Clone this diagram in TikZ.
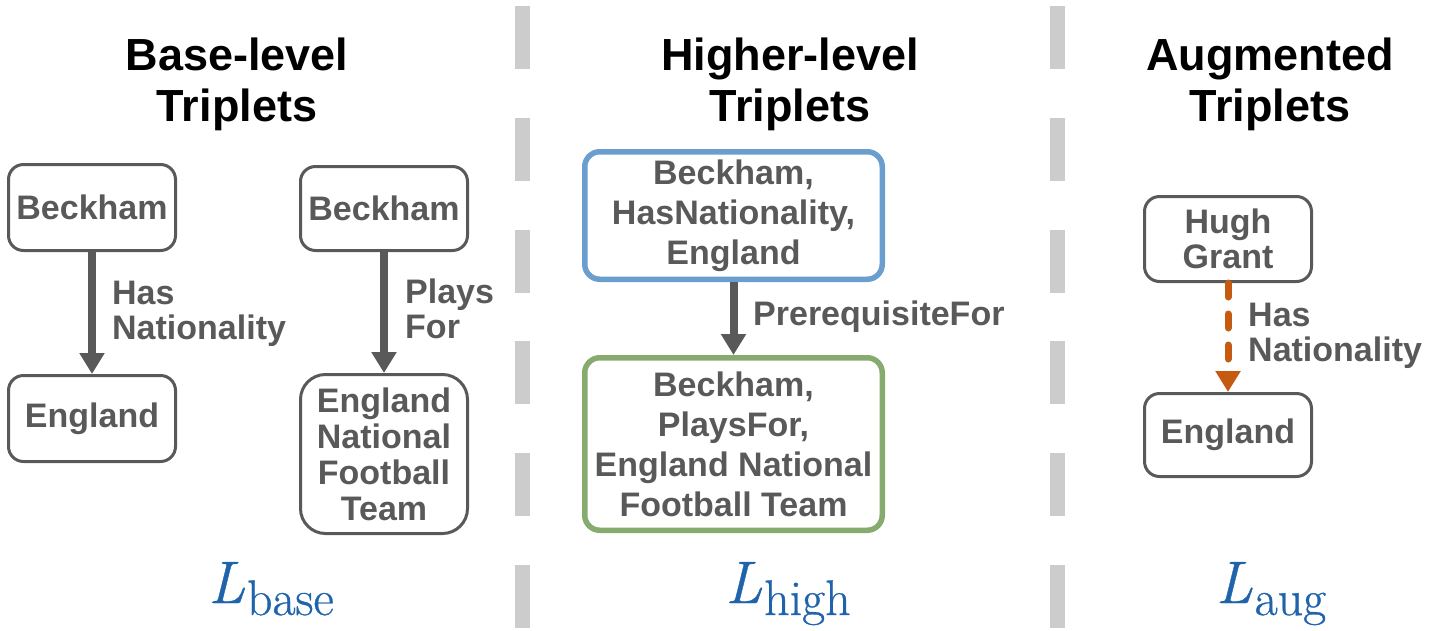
\documentclass[tikz,border=0pt]{standalone}
\usepackage{fontspec}
\setmainfont{Liberation Sans}
\newfontfamily\lmfont{Latin Modern Roman}[FakeBold=0.6]
\usetikzlibrary{arrows.meta}
\definecolor{txtgray}{HTML}{595959}
\definecolor{hblue}{HTML}{6A9ECF}
\definecolor{hgreen}{HTML}{87AA6E}
\definecolor{aorange}{HTML}{C55A11}
\definecolor{sepgray}{HTML}{CCCCCC}
\definecolor{lblue}{HTML}{1F63AB}
\newcommand\Lsub[1]{{\lmfont\fontsize{60}{62}\selectfont\itshape L\kern2pt}\raisebox{-12pt}{\lmfont\fontsize{50}{52}\selectfont #1}}
\begin{document}
\begin{tikzpicture}[x=1pt,y=-1pt,
  box/.style={draw=txtgray, line width=3pt, rounded corners=15pt, text=txtgray,
    font={\fontsize{34}{36}\selectfont\bfseries}, align=center, inner sep=0pt,
    minimum width=167pt},
  hbox/.style={draw=#1, line width=5.5pt, rounded corners=15pt, text=txtgray,
    font={\fontsize{34}{40}\selectfont\bfseries}, align=center, inner sep=0pt,
    minimum width=297.5pt},
  lbl/.style={text=txtgray, font={\fontsize{34}{35}\selectfont\bfseries}, align=left, inner sep=0pt},
  ttl/.style={text=black, font={\fontsize{45}{51}\selectfont\bfseries}, align=center, inner sep=0pt, anchor=north},
  lossl/.style={text=lblue, inner sep=0pt, anchor=base},
  rel/.style={draw=txtgray, line width=8pt, -{Triangle[width=24pt,length=21pt]}},
  augrel/.style={draw=aorange, line width=7pt, line cap=round, dash pattern=on 14pt off 17pt,
    -{Triangle[width=24pt,length=21pt]}},
  sep/.style={draw=sepgray, line width=15pt, dash pattern=on 63pt off 48.8pt}
]
\useasboundingbox (0,0) rectangle (1433,630);

% separators
\draw[sep] (522,6) -- (522,630);
\draw[sep] (1057,6) -- (1057,630);

% titles
\node[ttl] (t1) at (237,37.5) {Base-level\\Triplets};
\node[ttl] (t2) at (790,37.5) {Higher-level\\Triplets};
\node[ttl] (t3) at (1270,37.5) {Augmented\\Triplets};

% base-level
\node[box, minimum height=86pt] (a1) at (92,207.5) {Beckham};
\node[box, minimum height=86pt] (a2) at (92,418.5) {England};
\draw[rel] (a1) -- (a2);
\node[lbl, anchor=west] (la) at (112,314) {Has\\Nationality};

\node[box, minimum height=84pt] (b1) at (384,208.5) {Beckham};
\node[box, minimum height=159pt, rounded corners=25pt] (b2) at (384,454) {England\\National\\Football\\Team};
\draw[rel] (b1) -- (b2);
\node[lbl, anchor=west] (lb) at (405,308.5) {Plays\\For};

% higher-level
\node[hbox=hblue, minimum height=127.5pt] (c1) at (733.5,215.5) {Beckham,\\HasNationality,\\England};
\node[hbox=hgreen, minimum height=172.5pt] (c2) at (733.5,444) {Beckham,\\PlaysFor,\\England National\\Football Team};
\draw[rel] (c1) -- (c2);
\node[lbl, anchor=base west] (lc) at (753,325) {PrerequisiteFor};

% augmented
\node[box, minimum height=85pt, font={\fontsize{34}{35}\selectfont\bfseries}] (d1) at (1228,239) {Hugh\\Grant};
\node[box, minimum height=83pt] (d2) at (1228,435) {England};
\draw[augrel] (d1) -- (d2);
\node[lbl, anchor=west] (ld) at (1248,336) {Has\\Nationality};

% loss labels
\node[lossl] (l1) at (271,603) {\Lsub{base}};
\node[lossl] (l2) at (788,603) {\Lsub{high}};
\node[lossl] (l3) at (1271,603) {\Lsub{aug}};
\end{tikzpicture}
\end{document}
